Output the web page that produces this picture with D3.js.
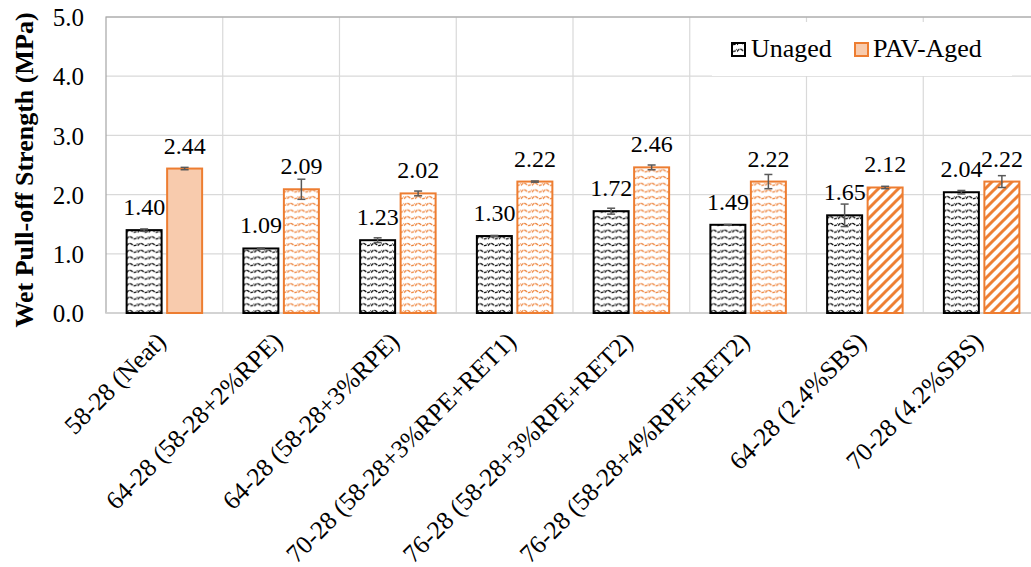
<!DOCTYPE html>
<html>
<head>
<meta charset="utf-8">
<script src="https://cdn.jsdelivr.net/npm/d3@7/dist/d3.min.js"></script>
<style>
  html, body { margin: 0; padding: 0; background: #fff; }
  svg { display: block; font-family: "Liberation Serif", "Times New Roman", serif; }
</style>
</head>
<body>
<svg id="chart" width="1031" height="567"></svg>
<script>
// Binder grades
const categories = [
  "58-28 (Neat)",
  "64-28 (58-28+2%RPE)",
  "64-28 (58-28+3%RPE)",
  "70-28 (58-28+3%RPE+RET1)",
  "76-28 (58-28+3%RPE+RET2)",
  "76-28 (58-28+4%RPE+RET2)",
  "64-28 (2.4%SBS)",
  "70-28 (4.2%SBS)"
];
const seriesNames = ["Unaged", "PAV-Aged"];

// Mean wet pull-off strength (MPa)
const unaged = [1.40, 1.09, 1.23, 1.30, 1.72, 1.49, 1.65, 2.04];
const pavAged = [2.44, 2.09, 2.02, 2.22, 2.46, 2.22, 2.12, 2.22];

// Standard deviation (MPa)
const unagedErr = [0.02, 0.01, 0.04, 0.01, 0.05, 0.005, 0.19, 0.03];
const pavAgedErr = [0.02, 0.17, 0.04, 0.01, 0.04, 0.12, 0.02, 0.10];

// Fill style per PAV bar: solid, wave, stripe
const pavFill = ["solid", "wave", "wave", "wave", "wave", "wave", "stripe", "stripe"];

const yTicks = [0, 1, 2, 3, 4, 5];

const svg = d3.select("#chart");
const plot = { left: 106, right: 1040, top: 17, bottom: 313 };

const orange = "#ED7D31";
const peach = "#F8CBAD";
const errColor = "#595959";
const serif = "'Liberation Serif', 'Times New Roman', serif";

// ---- patterns
const defs = svg.append("defs");
function wavePattern(id, color) {
  const p = defs.append("pattern")
    .attr("id", id)
    .attr("patternUnits", "userSpaceOnUse")
    .attr("width", 11).attr("height", 6.7);
  p.append("rect").attr("width", 11).attr("height", 6.7).attr("fill", "#fff");
  p.append("path")
    .attr("d", "M0,4.6 Q2.75,0.6 5.5,3.3 T11,2.4")
    .attr("fill", "none")
    .attr("stroke", color)
    .attr("stroke-width", 1.25)
    .attr("stroke-dasharray", "3.2,0.9");
}
wavePattern("waveBlack", "#000");
wavePattern("waveOrange", orange);

const stripe = defs.append("pattern")
  .attr("id", "stripeOrange")
  .attr("patternUnits", "userSpaceOnUse")
  .attr("width", 10).attr("height", 10);
stripe.append("rect").attr("width", 10).attr("height", 10).attr("fill", "#fff");
stripe.append("path")
  .attr("d", "M-2,2 L2,-2 M0,10 L10,0 M8,12 L12,8")
  .attr("stroke", orange)
  .attr("stroke-width", 3);

// ---- scales
const x0 = d3.scaleBand().domain(categories).range([plot.left, plot.right]);
const x1 = d3.scaleBand().domain(seriesNames).range([0, 75.5]).paddingInner(0.136);
const y = d3.scaleLinear().domain([0, 5]).range([plot.bottom, plot.top]);

// ---- gridlines
const grid = svg.append("g");
grid.selectAll("line.h").data(yTicks).join("line")
  .attr("x1", plot.left).attr("x2", plot.right)
  .attr("y1", d => y(d)).attr("y2", d => y(d))
  .attr("stroke", "#d9d9d9").attr("stroke-width", 1.2);
grid.selectAll("line.v").data(categories.slice(1)).join("line")
  .attr("x1", d => x0(d)).attr("x2", d => x0(d))
  .attr("y1", plot.top).attr("y2", plot.bottom)
  .attr("stroke", "#d9d9d9").attr("stroke-width", 1.2);
svg.append("rect")
  .attr("x", plot.left).attr("y", plot.top)
  .attr("width", plot.right - plot.left).attr("height", plot.bottom - plot.top)
  .attr("fill", "none").attr("stroke", "#a6a6a6").attr("stroke-width", 1.2);
svg.append("line")
  .attr("x1", plot.left).attr("x2", plot.right)
  .attr("y1", plot.bottom).attr("y2", plot.bottom)
  .attr("stroke", "#d9d9d9").attr("stroke-width", 1.5);

// ---- legend (white box over the grid)
const legend = svg.append("g").attr("font-family", serif).attr("font-size", 26).attr("fill", "#000");
legend.append("rect").attr("x", 712).attr("y", 22).attr("width", 300).attr("height", 54).attr("fill", "#fff");
legend.append("rect").attr("x", 732).attr("y", 43).attr("width", 13).attr("height", 13)
  .attr("fill", "url(#waveBlack)").attr("stroke", "#000").attr("stroke-width", 2);
legend.append("text").attr("x", 751).attr("y", 57).text(seriesNames[0]);
legend.append("rect").attr("x", 855).attr("y", 43).attr("width", 13).attr("height", 13)
  .attr("fill", peach).attr("stroke", orange).attr("stroke-width", 2);
legend.append("text").attr("x", 873).attr("y", 57).text(seriesNames[1]);

// ---- bars
const rows = categories.map((c, i) => ({
  cat: c,
  vals: [
    { key: seriesNames[0], v: unaged[i], e: unagedErr[i], fill: "url(#waveBlack)", stroke: "#000" },
    { key: seriesNames[1], v: pavAged[i], e: pavAgedErr[i],
      fill: pavFill[i] === "solid" ? peach : pavFill[i] === "wave" ? "url(#waveOrange)" : "url(#stripeOrange)",
      stroke: orange }
  ]
}));

const groups = svg.append("g").selectAll("g").data(rows).join("g")
  .attr("transform", d => `translate(${x0(d.cat) + x0.bandwidth() / 2 - 37.75},0)`);

groups.selectAll("rect").data(d => d.vals).join("rect")
  .attr("x", d => x1(d.key))
  .attr("y", d => y(d.v))
  .attr("width", x1.bandwidth())
  .attr("height", d => y(0) - y(d.v))
  .attr("fill", d => d.fill)
  .attr("stroke", d => d.stroke)
  .attr("stroke-width", 2);

// error bars
const eb = groups.selectAll("g.err").data(d => d.vals).join("g").attr("class", "err");
eb.append("line")
  .attr("x1", d => x1(d.key) + x1.bandwidth() / 2).attr("x2", d => x1(d.key) + x1.bandwidth() / 2)
  .attr("y1", d => y(d.v + d.e)).attr("y2", d => y(d.v - d.e))
  .attr("stroke", errColor).attr("stroke-width", 1.5);
eb.selectAll("line.cap").data(d => [d.v + d.e, d.v - d.e].map(t => ({ t, cx: x1(d.key) + x1.bandwidth() / 2 })))
  .join("line").attr("class", "cap")
  .attr("x1", d => d.cx - 4).attr("x2", d => d.cx + 4)
  .attr("y1", d => y(d.t)).attr("y2", d => y(d.t))
  .attr("stroke", errColor).attr("stroke-width", 1.5);

// value labels
groups.selectAll("text.val").data(d => d.vals).join("text").attr("class", "val")
  .attr("x", d => x1(d.key) + x1.bandwidth() / 2)
  .attr("y", d => y(d.v) - 15)
  .attr("text-anchor", "middle")
  .attr("font-family", serif)
  .attr("font-size", 24)
  .attr("fill", "#000")
  .text(d => d.v.toFixed(2));

// ---- y axis
const yAxis = svg.append("g").attr("transform", `translate(${plot.left},0)`)
  .call(d3.axisLeft(y).tickValues(yTicks).tickFormat(d3.format(".1f")).tickSize(0).tickPadding(22));
yAxis.select(".domain").remove();
yAxis.selectAll("text").attr("font-size", 25).attr("font-family", serif).attr("fill", "#000").attr("dy", "0.35em");

// ---- x axis labels (rotated)
const xAxis = svg.append("g").attr("transform", `translate(0,${plot.bottom})`)
  .call(d3.axisBottom(x0).tickSize(0).tickPadding(0));
xAxis.select(".domain").remove();
xAxis.selectAll("text")
  .attr("font-size", 25.5)
  .attr("font-family", serif)
  .attr("fill", "#000")
  .attr("text-anchor", "end")
  .attr("dy", 0)
  .attr("transform", "translate(3,30) rotate(-45)");

// ---- y title
svg.append("text")
  .attr("transform", `translate(33,170) rotate(-90)`)
  .attr("text-anchor", "middle")
  .attr("font-family", serif)
  .attr("font-size", 26)
  .attr("font-weight", "bold")
  .attr("fill", "#000")
  .text("Wet Pull-off Strength (MPa)");
</script>
</body>
</html>
